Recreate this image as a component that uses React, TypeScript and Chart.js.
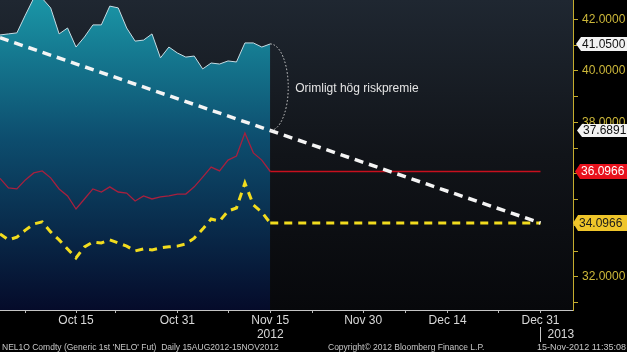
import React, { useEffect, useRef } from 'react';
import { Chart, registerables } from 'chart.js';
Chart.register(...registerables);

// weekday index, 0 = Oct 15 2012
const dayIndex = [-9, -8, -7, -6, -5, -4, -3, -2, -1, 0, 1, 2, 3, 4, 5, 6, 7, 8, 9, 10, 11, 12, 13, 14, 15, 16, 17, 18, 19, 20, 21, 22, 23];
const priceNEL = [41.40, 41.44, 41.48, 42.17, 42.83, 42.82, 42.45, 41.44, 41.67, 40.93, 41.32, 41.79, 41.79, 42.52, 42.45, 41.67, 41.16, 41.20, 41.44, 40.51, 40.93, 40.70, 40.54, 40.58, 40.08, 40.31, 40.27, 40.39, 40.35, 41.09, 41.09, 40.93, 41.05];
const redSeries = [35.83, 35.46, 35.42, 35.77, 36.04, 36.12, 35.85, 35.42, 35.15, 34.64, 35.03, 35.42, 35.30, 35.50, 35.30, 35.26, 34.95, 35.15, 35.03, 35.11, 35.15, 35.22, 35.22, 35.50, 35.88, 36.27, 36.12, 36.54, 36.70, 37.59, 36.82, 36.54, 36.0966];
const yellowSeries = [33.67, 33.44, 33.55, 33.82, 34.06, 34.14, 33.75, 33.44, 33.09, 32.74, 33.17, 33.36, 33.32, 33.44, 33.32, 33.20, 33.01, 33.09, 33.05, 33.13, 33.17, 33.20, 33.28, 33.51, 33.86, 34.25, 34.17, 34.56, 34.68, 35.65, 34.80, 34.52, 34.0966];
const projX = [23, 55];
const redProj = [36.0966, 36.0966];
const yellowProj = [34.0966, 34.0966];
const trendX = [-9, 23, 55];
const trendY = [41.29, 37.6891, 34.0966];
const xMajorTicks = [0, 12, 23, 34, 44, 55];
const xMajorLabels: (string | string[])[] = ['Oct 15', 'Oct 31', ['Nov 15', '2012'], 'Nov 30', 'Dec 14', 'Dec 31'];
const xMinorTicks = [-6, 4.7, 18.1, 28, 39, 50];
const yTicks = [31, 32, 33, 34, 35, 36, 37, 38, 39, 40, 41, 42];
const boxValues = [41.05, 37.6891, 36.0966, 34.0966];
const boxLabels = ['41.0500', '37.6891', '36.0966', '34.0966'];
const annotationText = 'Orimligt hög riskpremie';
const yearLabel2013 = '2013';
const footerLeft = "NEL1O Comdty (Generic 1st 'NELO' Fut)  Daily 15AUG2012-15NOV2012";
const footerMid = 'Copyright\u00A9 2012 Bloomberg Finance L.P.';
const footerRight = '15-Nov-2012 11:35:08';

const FONT = '"Liberation Sans", Arial, sans-serif';

function pts(xs: number[], ys: number[]) {
  return xs.map((x, i) => ({ x, y: ys[i] }));
}

export default function App() {
  const ref = useRef<HTMLCanvasElement | null>(null);
  useEffect(() => {
    const canvas = ref.current!;
    const boxStyles = [
      { bg: '#f2f2f2', fg: '#111111', tip: 576, h: 14 },
      { bg: '#f2f2f2', fg: '#111111', tip: 577, h: 13 },
      { bg: '#e8111c', fg: '#ffffff', tip: 575, h: 15 },
      { bg: '#efc52a', fg: '#1a1a1a', tip: 573, h: 16 },
    ];
    const bgPlugin = {
      id: 'bg',
      beforeDraw(chart: any) {
        const { ctx, chartArea: ca } = chart;
        ctx.save();
        ctx.fillStyle = '#000000';
        ctx.fillRect(0, 0, chart.width, chart.height);
        const g = ctx.createLinearGradient(0, ca.top, 0, ca.bottom);
        g.addColorStop(0, '#1f2731');
        g.addColorStop(0.5, '#111419');
        g.addColorStop(1, '#07080b');
        ctx.fillStyle = g;
        ctx.fillRect(ca.left, ca.top, ca.right - ca.left, ca.bottom - ca.top);
        ctx.restore();
      },
      afterDatasetsDraw(chart: any) {
        const { ctx } = chart;
        const xs = chart.scales.x, ys = chart.scales.y;
        const cx = xs.getPixelForValue(projX[0]);
        const y1 = ys.getPixelForValue(boxValues[0]);
        const y2 = ys.getPixelForValue(boxValues[1]);
        ctx.save();
        ctx.strokeStyle = '#d8d8d8';
        ctx.lineWidth = 1;
        ctx.setLineDash([1.5, 2]);
        ctx.beginPath();
        ctx.ellipse(cx, (y1 + y2) / 2, 18, (y2 - y1) / 2, 0, -Math.PI / 2, Math.PI / 2);
        ctx.stroke();
        ctx.setLineDash([]);
        ctx.fillStyle = '#e4e4e4';
        ctx.font = '12px ' + FONT;
        ctx.textBaseline = 'middle';
        ctx.textAlign = 'left';
        ctx.fillText(annotationText, cx + 25, (y1 + y2) / 2 + 1);
        ctx.restore();
      },
      afterDraw(chart: any) {
        const { ctx } = chart;
        const ys = chart.scales.y, xs = chart.scales.x;
        ctx.save();
        ctx.font = '12px ' + FONT;
        ctx.textBaseline = 'middle';
        ctx.textAlign = 'left';
        boxValues.forEach((v, i) => {
          const st = boxStyles[i];
          const y = ys.getPixelForValue(v);
          const left = st.tip + 5;
          ctx.fillStyle = st.bg;
          ctx.beginPath();
          ctx.moveTo(st.tip, y);
          ctx.lineTo(left, y - st.h / 2);
          ctx.lineTo(627, y - st.h / 2);
          ctx.lineTo(627, y + st.h / 2);
          ctx.lineTo(left, y + st.h / 2);
          ctx.closePath();
          ctx.fill();
          ctx.fillStyle = st.fg;
          ctx.fillText(boxLabels[i], left + 1, y + 0.5);
        });
        // 2013 label with separator
        const px = xs.getPixelForValue(xMajorTicks[xMajorTicks.length - 1]);
        ctx.strokeStyle = '#c8c8c8';
        ctx.lineWidth = 1;
        ctx.beginPath();
        ctx.moveTo(Math.round(px) + 0.5, 327);
        ctx.lineTo(Math.round(px) + 0.5, 342);
        ctx.stroke();
        ctx.fillStyle = '#d8d8d8';
        ctx.fillText(yearLabel2013, px + 7, 335);
        // footer
        ctx.font = '8.5px ' + FONT;
        ctx.fillStyle = '#c8c8c8';
        ctx.textBaseline = 'middle';
        ctx.textAlign = 'left';
        ctx.fillText(footerLeft, 2, 348);
        ctx.fillText(footerMid, 328, 348);
        ctx.textAlign = 'right';
        ctx.font = '9px ' + FONT;
        ctx.fillText(footerRight, 626, 348);
        ctx.restore();
      },
    };

    const areaGradient = (c: any) => {
      const ca = c.chart.chartArea;
      if (!ca) return '#0c4a6c';
      const g = c.chart.ctx.createLinearGradient(0, ca.top, 0, ca.bottom);
      g.addColorStop(0, '#1a95a6');
      g.addColorStop(0.45, '#0d4d6e');
      g.addColorStop(1, '#050b2a');
      return g;
    };

    const chart = new Chart(canvas, {
      type: 'line',
      data: {
        datasets: [
          {
            data: pts(trendX, trendY),
            borderColor: '#f4f4f4',
            borderWidth: 3.5,
            borderDash: [9, 6],
            pointRadius: 0,
            fill: false,
            order: 0,
          },
          {
            data: pts(projX, yellowProj),
            borderColor: '#f2dc1e',
            borderWidth: 3,
            borderDash: [8, 6],
            pointRadius: 0,
            fill: false,
            order: 1,
          },
          {
            data: pts(dayIndex, yellowSeries),
            borderColor: '#f2dc1e',
            borderWidth: 3,
            borderDash: [8, 6],
            pointRadius: 0,
            fill: false,
            order: 2,
          },
          {
            data: pts(projX, redProj),
            borderColor: '#c8101e',
            borderWidth: 1.5,
            pointRadius: 0,
            fill: false,
            order: 3,
          },
          {
            data: pts(dayIndex, redSeries),
            borderColor: '#a8203e',
            borderWidth: 1.3,
            pointRadius: 0,
            fill: false,
            order: 4,
          },
          {
            data: pts(dayIndex, priceNEL),
            borderColor: '#c6dce4',
            borderWidth: 1,
            backgroundColor: areaGradient,
            pointRadius: 0,
            fill: 'start',
            order: 5,
          },
        ],
      },
      options: {
        animation: false,
        responsive: false,
        maintainAspectRatio: false,
        layout: { padding: 0 },
        plugins: { legend: { display: false }, tooltip: { enabled: false } },
        elements: { line: { tension: 0 } },
        scales: {
          x: {
            type: 'linear',
            min: -9,
            max: 58.85,
            afterBuildTicks: (s: any) => {
              s.ticks = [...xMinorTicks, ...xMajorTicks].sort((a, b) => a - b).map((v) => ({ value: v }));
            },
            afterFit: (s: any) => {
              s.height = 42;
              s.paddingLeft = 0;
              s.paddingRight = 0;
            },
            grid: { drawOnChartArea: false, drawTicks: true, tickLength: 3, color: '#b8b8b8' },
            border: { color: '#c4c4c4', width: 1 },
            ticks: {
              autoSkip: false,
              maxRotation: 0,
              padding: 0,
              color: '#d8d8d8',
              font: { family: FONT, size: 12 },
              callback: (v: any) => {
                const i = xMajorTicks.indexOf(v);
                return i >= 0 ? xMajorLabels[i] : '';
              },
            },
          },
          y: {
            type: 'linear',
            position: 'right',
            min: 30.718,
            max: 42.757,
            afterBuildTicks: (s: any) => {
              s.ticks = yTicks.map((v) => ({ value: v }));
            },
            afterFit: (s: any) => {
              s.width = 54;
              s.paddingTop = 0;
              s.paddingBottom = 0;
            },
            grid: { drawOnChartArea: false, drawTicks: true, tickLength: 5, color: '#c4ac2e' },
            border: { color: '#c4ac2e', width: 1 },
            ticks: {
              autoSkip: false,
              padding: 4,
              color: '#cdb83a',
              font: { family: FONT, size: 12 },
              callback: (v: any) => (v % 2 === 0 ? Number(v).toFixed(4) : ''),
            },
          },
        },
      },
      plugins: [bgPlugin],
    } as any);
    return () => chart.destroy();
  }, []);

  return (
    <div style={{ position: 'fixed', left: 0, top: 0, width: 627, height: 352, background: '#000' }}>
      <canvas ref={ref} width={627} height={352} style={{ display: 'block', width: 627, height: 352 }} />
    </div>
  );
}
